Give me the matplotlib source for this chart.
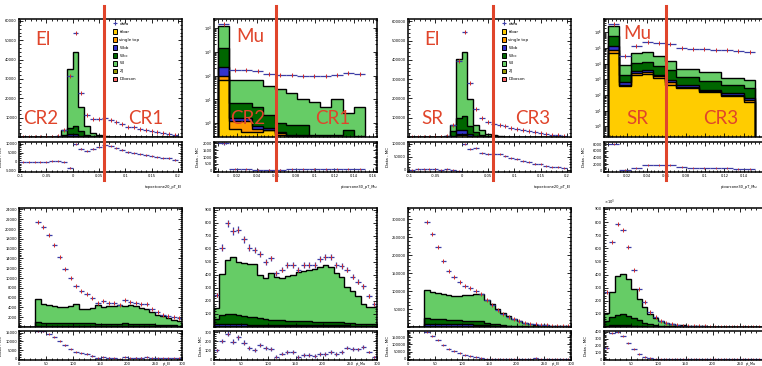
import numpy as np
import matplotlib
matplotlib.use('Agg')
import matplotlib.pyplot as plt
import matplotlib.transforms as mtransforms
from matplotlib.patches import Patch
from matplotlib.lines import Line2D
from matplotlib.ticker import AutoMinorLocator, FuncFormatter, FixedLocator

# colours
C_TTBAR = '#ffcc00'
C_STOP = '#ff9900'
C_WBB = '#3333cc'
C_WCC = '#006600'
C_WL = '#66cc66'
C_ZJ = '#999900'
C_DIB = '#ff6666'
DATA_BLUE = '#3d3da6'
RED = '#e0452b'

# ---- top row: isolation variables ----
# electron topoetcone20/pT, 27 bins from -0.1 to 0.2
ttbar1 = [0, 0, 0, 0, 0, 0, 0, 50, 400, 400, 150, 50, 20, 10, 5, 0, 0, 0, 0, 0, 0, 0, 0, 0, 0, 0, 0]
stop1 = [0, 0, 0, 0, 0, 0, 0, 30, 300, 300, 100, 30, 10, 5, 0, 0, 0, 0, 0, 0, 0, 0, 0, 0, 0, 0, 0]
wbb1 = [0, 0, 0, 0, 0, 0, 0, 100, 800, 900, 400, 100, 50, 20, 10, 5, 0, 0, 0, 0, 0, 0, 0, 0, 0, 0, 0]
wcc1 = [0, 0, 0, 0, 0, 0, 50, 600, 3100, 3900, 2250, 820, 350, 200, 100, 50, 30, 20, 10, 10, 10, 5, 5, 5, 5, 0, 0]
wl1 = [0, 0, 0, 0, 0, 0, 100, 3000, 30400, 38500, 12600, 4500, 1600, 800, 400, 200, 120, 80, 70, 60, 50, 40, 30, 20, 20, 10, 10]
data1 = [20, 30, 40, 60, 90, 130, 300, 3500, 31700, 53800, 22800, 11500, 9300, 9300, 9800, 9000, 7600, 6800,
         5200, 5000, 4300, 3500, 3000, 2600, 2000, 1800, 1200]

# muon ptvarcone30/pT, 13 bins
ttbar2 = [68, 0.6, 0.45, 0.45, 0.52, 0.32, 0.28, 0.28, 0.1, 0.1, 0.1, 0.1, 0.1]
stop2 = [32, 0.6, 0.75, 0.15, 0.03, 0.06, 0.02, 0.02, 0.05, 0.05, 0.05, 0.05, 0.05]
wbb2 = [125, 0.4, 0.4, 0.17, 0.07, 0.07, 0.02, 0.02, 0.05, 0.05, 0.05, 0.05, 0.05]
wcc2 = [1255, 5.4, 5.4, 4.2, 1.6, 0.55, 0.53, 0.53, 0.12, 0.12, 0.12, 0.32, 0.1]
wl2 = [10520, 61, 61, 63, 36, 26, 17, 10, 7.7, 4.7, 9.7, 2.1, 4.4]
data2 = [14000, 170, 170, 150, 120, 110, 110, 100, 100, 93, 110, 130, 115]

# electron, signal-like selection
ttbar3 = [0, 0, 0, 0, 0, 0, 0, 1000, 10000, 10000, 4000, 1000, 300, 100, 50, 0, 0, 0, 0, 0, 0, 0, 0, 0, 0, 0, 0]
stop3 = [0, 0, 0, 0, 0, 0, 0, 500, 5000, 5000, 2000, 500, 200, 50, 20, 0, 0, 0, 0, 0, 0, 0, 0, 0, 0, 0, 0]
wbb3 = [0, 0, 0, 0, 0, 0, 200, 3000, 20000, 23000, 12000, 3000, 1000, 400, 200, 100, 50, 0, 0, 0, 0, 0, 0, 0, 0, 0, 0]
wcc3 = [0, 0, 0, 0, 0, 500, 1000, 25500, 64000, 70000, 38000, 19500, 9000, 5000, 2000, 800, 500, 300, 200, 150,
        100, 80, 60, 50, 40, 30, 20]
wl3 = [0, 0, 0, 0, 0, 1500, 4000, 34000, 304000, 335000, 142000, 40000, 25000, 12000, 6000, 2200, 1500, 1200,
       800, 700, 550, 450, 380, 280, 230, 190, 140]
data3 = [500, 700, 900, 1200, 1500, 2500, 6000, 64000, 396000, 542000, 278000, 146000, 99000, 76000, 70000, 64000,
         56000, 47000, 42000, 35000, 30000, 24000, 21000, 16000, 12000, 10000, 7000]

# muon, signal-like selection (log)
ttbar4 = [48000, 390, 2000, 2300, 1200, 450, 280, 280, 150, 150, 82, 82, 34]
stop4 = [30000, 70, 500, 500, 360, 190, 50, 50, 30, 30, 13, 13, 11]
wbb4 = [52000, 180, 700, 900, 440, 310, 130, 130, 40, 40, 35, 35, 20]
wcc4 = [420000, 1360, 7800, 8300, 4700, 2750, 940, 940, 530, 530, 330, 330, 215]
wl4 = [1850000, 6000, 37000, 41000, 22300, 11300, 3200, 3200, 2050, 2050, 740, 740, 670]
data4 = [3200000, 29000, 130000, 230000, 210000, 180000, 100000, 90000, 85000, 79000, 70000, 60000, 55000]

# ---- bottom row: lepton pT, 30 bins of 10 from 0 to 300 ----
ttbar5 = [0, 0, 0, 90, 85, 85, 80, 80, 80, 85, 80, 75, 75, 75, 70, 70, 70, 70, 70, 75, 70, 70, 65, 60, 55, 50, 45, 40, 35, 30]
wbb5 = [0, 0, 0, 130, 120, 120, 115, 110, 110, 120, 115, 110, 110, 105, 100, 100, 100, 100, 105, 110, 100, 100, 95,
        90, 85, 80, 70, 60, 55, 50]
wcc5 = [0, 0, 0, 700, 650, 650, 600, 580, 600, 700, 600, 550, 600, 550, 500, 500, 480, 500, 520, 600, 500, 480, 450,
        420, 380, 350, 300, 280, 250, 220]
wl5 = [0, 0, 0, 4700, 3750, 3600, 3500, 3320, 3300, 3400, 3800, 3020, 2830, 3150, 3750, 3400, 3570, 3600, 3730,
       3500, 3900, 3570, 3250, 3010, 2500, 1980, 1760, 1370, 1130, 950]
data5 = [np.nan, np.nan, np.nan, 21370, 20400, 18800, 16800, 14200, 11850, 9930, 8420, 7330, 6710, 5820, 5000,
         5270, 5000, 4800, 4590, 5480, 5140, 5000, 4660, 4660, 3630, 3080, 2530, 2190, 1990, 1850]

ttbar6 = [5, 8, 8, 8, 8, 7, 7, 7, 6, 6, 6, 6, 5, 5, 5, 5, 5, 5, 5, 5, 5, 4, 4, 4, 4, 3, 3, 3, 3, 3]
wbb6 = [15, 14, 14, 13, 13, 13, 12, 12, 12, 12, 11, 11, 11, 11, 10, 10, 10, 10, 10, 10, 10, 9, 9, 9, 9, 8, 8, 8, 8, 8]
wcc6 = [43, 69, 74, 81, 70, 65, 60, 55, 50, 45, 40, 35, 35, 32, 30, 30, 28, 28, 27, 27, 26, 25, 24, 22, 20, 18, 15,
        13, 10, 10]
wl6 = [82, 312, 414, 437, 410, 402, 402, 412, 331, 316, 354, 331, 326, 346, 356, 374, 383, 391, 402, 417, 436, 419,
       380, 351, 277, 246, 211, 152, 135, 130]
data6 = [246, 609, 794, 736, 744, 673, 609, 591, 558, 500, 525, 411, 439, 477, 477, 439, 475, 477, 477, 520, 533,
         533, 477, 470, 439, 386, 348, 312, 236, 178]

ttbar7 = [0, 0, 0, 3000, 3000, 2900, 2800, 2700, 2600, 2500, 2500, 2500, 2400, 2300, 1800, 1400, 1000, 800, 600,
          400, 300, 200, 150, 100, 80, 70, 50, 40, 30, 30]
wbb7 = [0, 0, 0, 5000, 5000, 4900, 4800, 4700, 4600, 4500, 4500, 4500, 4400, 4200, 3200, 2600, 2000, 1400, 1000,
        800, 500, 400, 250, 200, 170, 130, 100, 80, 70, 50]
wcc7 = [0, 0, 0, 17000, 15400, 14200, 13400, 12600, 11800, 11500, 11000, 10500, 10200, 9500, 6000, 5000, 4000,
        2800, 2400, 1800, 1200, 900, 600, 500, 350, 300, 250, 180, 200, 120]
wl7 = [0, 0, 0, 77800, 74700, 71500, 69700, 68800, 67900, 68400, 70800, 71300, 73700, 74700, 65600, 56400, 44400,
       35200, 26800, 20400, 14800, 10600, 8300, 5700, 5000, 4200, 3300, 2500, 2500, 1700]
data7 = [np.nan, np.nan, np.nan, 291600, 259800, 222400, 185000, 157000, 138300, 126000, 115000, 107500, 100000,
         91600, 74800, 60700, 46700, 37400, 28000, 21500, 15900, 12100, 9300, 7500, 5600, 4700, 3700, 2800, 2800, 1900]

ttbar8 = [3000, 5000, 6000, 6000, 5500, 4500, 3200, 2000, 1200, 800, 500, 350, 250, 180, 140, 120, 100, 80, 60, 50,
          40, 30, 30, 25, 20, 15, 15, 12, 10, 8]
wbb8 = [5000, 7000, 9000, 9000, 8500, 6500, 4800, 3000, 1800, 1200, 800, 550, 350, 270, 210, 180, 150, 120, 90, 70,
        60, 50, 40, 35, 30, 25, 20, 18, 15, 12]
wcc8 = [34000, 63000, 77000, 85000, 73000, 56000, 42000, 27000, 17000, 10000, 6700, 5100, 3400, 2550, 2150, 1700,
        1250, 1000, 850, 680, 600, 520, 430, 340, 300, 260, 215, 170, 155, 130]
wl8 = [63000, 195000, 295000, 307000, 280000, 220000, 167000, 118000, 80000, 55000, 34000, 24000, 16000, 12000,
       9500, 7000, 5500, 4300, 3500, 2700, 2300, 1900, 1500, 1300, 1150, 900, 750, 700, 620, 550]
data8 = [270000, 650000, 782000, 742000, 607000, 437000, 292000, 187000, 117000, 75000, 45000, 30000, 20000, 15000,
         11000, 8500, 6500, 5200, 4200, 3400, 2800, 2300, 1900, 1600, 1400, 1200, 1000, 850, 750, 650]

legend_labels = ['data', 'ttbar', 'single top', 'Wbb', 'Wcc', 'Wl', 'Zj', 'Diboson']

el_edges = np.linspace(-0.1, 0.2, 28)
mu_edges = np.linspace(0, 0.152, 14)
pt_edges = np.arange(0, 301, 10)

el_xticks = [-0.1, -0.05, 0, 0.05, 0.1, 0.15, 0.2]
mu_xticks = [0, 0.02, 0.04, 0.06, 0.08, 0.1, 0.12, 0.14, 0.16]
pt_xticks = [0, 50, 100, 150, 200, 250, 300]


def draw_main(ax, edges, layers, data, log=False):
    floor = 1e-3 if log else 0.0
    base = np.full(len(edges) - 1, floor)
    tops = []
    for vals, color in layers:
        top = base + np.asarray(vals, dtype=float)
        ax.stairs(top, edges, baseline=base, fill=True, facecolor=color, edgecolor='none')
        tops.append(top)
        base = top
    for top in tops:
        ax.stairs(top, edges, baseline=floor, color='black', lw=1.0)
    centers = 0.5 * (edges[:-1] + edges[1:])
    half = 0.5 * np.diff(edges)
    d = np.asarray(data, dtype=float)
    ax.errorbar(centers, d, xerr=half, yerr=np.sqrt(d), fmt='none', ecolor=DATA_BLUE, elinewidth=0.9)
    ax.plot(centers, d, '|', color='#d42a2a', ms=2.2, mew=0.7)
    return base - floor


def draw_ratio(ax, edges, data, mc):
    centers = 0.5 * (edges[:-1] + edges[1:])
    half = 0.5 * np.diff(edges)
    d = np.asarray(data, dtype=float)
    diff = d - mc
    ax.errorbar(centers, diff, xerr=half, yerr=np.sqrt(d), fmt='none', ecolor=DATA_BLUE, elinewidth=0.9)
    ax.plot(centers, diff, '|', color='#d42a2a', ms=1.6, mew=0.6)


def style(ax, xlim, ylim, xticks, yticks=None, yfmt=None, log=False):
    ax.set_xlim(*xlim)
    if log:
        ax.set_yscale('log')
    ax.set_ylim(*ylim)
    ax.xaxis.set_major_locator(FixedLocator(xticks))
    ax.xaxis.set_major_formatter(FuncFormatter(lambda v, p: '%g' % v))
    ax.tick_params(which='both', direction='in', top=True, right=True, labelsize=2.6, pad=1.5, width=0.6)
    ax.tick_params(which='major', length=3)
    ax.tick_params(which='minor', length=1.5)
    ax.xaxis.set_minor_locator(AutoMinorLocator(5))
    if not log:
        ax.yaxis.set_minor_locator(AutoMinorLocator(5))
    if yticks is not None:
        ax.yaxis.set_major_locator(FixedLocator(yticks))
    if yfmt is not None:
        ax.yaxis.set_major_formatter(yfmt)
    elif not log:
        ax.yaxis.set_major_formatter(FuncFormatter(lambda v, p: '%g' % v))
    for s in ax.spines.values():
        s.set_linewidth(1.1)


fig = plt.figure(figsize=(7.62, 3.66), dpi=100)
W, H = 762.0, 366.0
col_left = [19, 214, 408, 604]
wid = 163 / W


def make_axes(col, top_row):
    l = col_left[col] / W
    if top_row:
        am = fig.add_axes([l, 1 - 137 / H, wid, 118 / H])
        ar = fig.add_axes([l, 1 - 172 / H, wid, 30 / H])
    else:
        am = fig.add_axes([l, 1 - 327 / H, wid, 119 / H])
        ar = fig.add_axes([l, 1 - 360 / H, wid, 29 / H])
    return am, ar


def layers5(t, s, b, c, l):
    out = [(t, C_TTBAR)]
    if s is not None:
        out.append((s, C_STOP))
    out += [(b, C_WBB), (c, C_WCC), (l, C_WL)]
    return out


el_xlim = (-0.102, 0.208)
mu_xlim = (-0.004, 0.164)
pt_xlim = (0, 300)

panels = [
    # col, top, edges, layers, data, log, xlim, xticks, ylim main, yticks main, main fmt, ylim ratio, yticks ratio, ratio fmt, xlabel
    (0, True, el_edges, layers5(ttbar1, stop1, wbb1, wcc1, wl1), data1, False, el_xlim, el_xticks, (0, 61000),
     [10000, 20000, 30000, 40000, 50000, 60000], None, (-5700, 10900), [-5000, 0, 5000, 10000], None,
     'topoetcone20_pT_El'),
    (1, True, mu_edges, layers5(ttbar2, stop2, wbb2, wcc2, wl2), data2, True, mu_xlim, mu_xticks, (0.27, 2.3e4),
     None, None, (-100, 2100), [0, 500, 1000, 1500, 2000], None, 'ptvarcone30_pT_Mu'),
    (2, True, el_edges, layers5(ttbar3, stop3, wbb3, wcc3, wl3), data3, False, el_xlim, el_xticks, (0, 612000),
     [100000, 200000, 300000, 400000, 500000, 600000], None, (-9000, 106000), [0, 50000, 100000], None,
     'topoetcone20_pT_El'),
    (3, True, mu_edges, layers5(ttbar4, stop4, wbb4, wcc4, wl4), data4, True, mu_xlim, mu_xticks[:-1], (0.21, 7e6),
     None, None, (-40000, 860000), [0, 200000, 400000, 600000, 800000],
     FuncFormatter(lambda v, p: '%g' % (v / 100)), 'ptvarcone30_pT_Mu'),
    (0, False, pt_edges, layers5(ttbar5, None, wbb5, wcc5, wl5), data5, False, pt_xlim, pt_xticks, (0, 24300),
     list(range(2000, 24001, 2000)), None, (-600, 16000), [0, 5000, 10000, 15000], None, 'pt_El'),
    (1, False, pt_edges, layers5(ttbar6, None, wbb6, wcc6, wl6), data6, False, pt_xlim, pt_xticks, (0, 912),
     list(range(100, 901, 100)), None, (-10, 316), [0, 100, 200, 300], None, 'pt_Mu'),
    (2, False, pt_edges, layers5(ttbar7, None, wbb7, wcc7, wl7), data7, False, pt_xlim, pt_xticks, (0, 332000),
     [50000, 100000, 150000, 200000, 250000, 300000], None, (-10000, 195000), [0, 50000, 100000, 150000], None,
     'pt_El'),
    (3, False, pt_edges, layers5(ttbar8, None, wbb8, wcc8, wl8), data8, False, pt_xlim, pt_xticks[:-1], (0, 907000),
     list(range(100000, 900001, 100000)), FuncFormatter(lambda v, p: '%g' % (v / 1000)), (-10000, 414000),
     [0, 100000, 200000, 300000, 400000], FuncFormatter(lambda v, p: '%g' % (v / 1000)), 'pt_Mu'),
]

main_axes = []
ratio_axes = []
for (col, top, edges, layers, data, log, xlim, xt, ylim, yt, yf, rylim, ryt, ryf, xlab) in panels:
    am, ar = make_axes(col, top)
    mc = draw_main(am, edges, layers, data, log=log)
    style(am, xlim, ylim, xt, yticks=yt, yfmt=yf, log=log)
    am.tick_params(labelbottom=False)
    draw_ratio(ar, edges, data, mc)
    style(ar, xlim, rylim, xt, yticks=ryt, yfmt=ryf)
    ar.set_ylabel('Data - MC', fontsize=3.0, labelpad=5.0 if col == 3 else 1.6)
    if top:
        # right edge of the last column lies past the figure edge
        xr = 0.94 if col == 3 else 1.0
        ar.set_xlabel(xlab, fontsize=2.6)
        ar.xaxis.set_label_coords(xr, -0.42)
        ar.xaxis.label.set_ha('right')
    else:
        ar.set_xlabel(xlab, fontsize=2.4)
        ar.xaxis.set_label_coords(0.93, -0.07)
        ar.xaxis.label.set_ha('right')
        ar.xaxis.label.set_va('top')
    main_axes.append(am)
    ratio_axes.append(ar)

# ×10^n markers
main_axes[7].text(0.0, 1.01, r'$\times10^{3}$', transform=main_axes[7].transAxes, fontsize=2.6, va='bottom')
ratio_axes[3].text(0.0, 1.02, r'$\times10^{2}$', transform=ratio_axes[3].transAxes, fontsize=2.2,
                   ha='left', va='bottom')

# legends on the electron isolation plots
handles = [Line2D([], [], color=DATA_BLUE, marker='+', ms=3, mew=0.8, lw=0)]
for c in [C_TTBAR, C_STOP, C_WBB, C_WCC, C_WL, C_ZJ, C_DIB]:
    handles.append(Patch(facecolor=c, edgecolor='black', lw=0.7))
for ax in (main_axes[0], main_axes[2]):
    ax.legend(handles, legend_labels, loc='upper left', bbox_to_anchor=(0.57, 0.99), frameon=False,
              fontsize=3.0, labelspacing=0.75, handlelength=1.0, handleheight=1.4, handletextpad=0.6,
              borderaxespad=0, borderpad=0.2)

# region labels and cut lines
region_text = [
    (0, [('El', 0.10, 0.83), ('CR2', 0.025, 0.16), ('CR1', 0.67, 0.16)]),
    (1, [('Mu', 0.135, 0.855), ('CR2', 0.10, 0.16), ('CR1', 0.62, 0.16)]),
    (2, [('El', 0.10, 0.83), ('SR', 0.08, 0.16), ('CR3', 0.66, 0.16)]),
    (3, [('Mu', 0.12, 0.88), ('SR', 0.135, 0.16), ('CR3', 0.61, 0.16)]),
]
for i, items in region_text:
    ax = main_axes[i]
    for s, x, y in items:
        ax.text(x, y, s, transform=ax.transAxes, color=RED, fontsize=13.5, family='Lato',
                ha='left', va='center', zorder=20)
    trans = mtransforms.blended_transform_factory(ax.transData, fig.transFigure)
    fig.add_artist(Line2D([0.06, 0.06], [0.508, 0.984], transform=trans, color=RED, lw=2.2, zorder=5))

fig.savefig('out.png', dpi=100)
